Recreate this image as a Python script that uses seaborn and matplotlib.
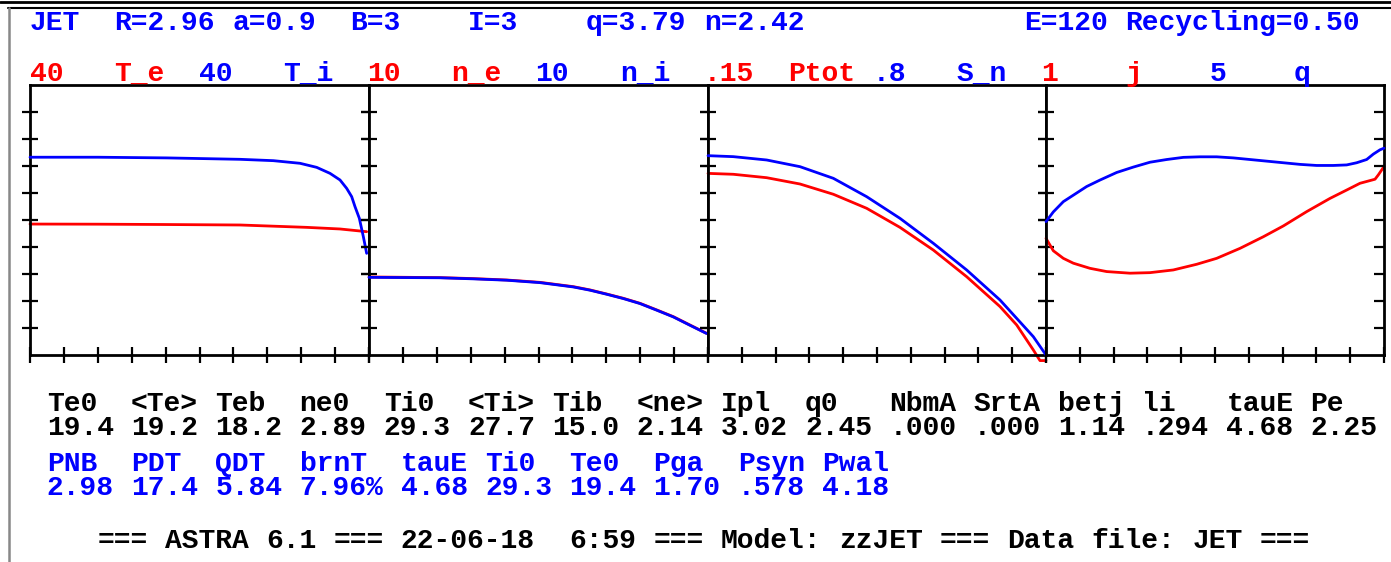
import re
import numpy as np
import matplotlib
matplotlib.use("Agg")
import matplotlib.pyplot as plt
import seaborn as sns
from matplotlib.lines import Line2D

# ---------------- data ----------------
header_line = "JET  R=2.96 a=0.9  B=3    I=3    q=3.79 n=2.42             E=120 Recycling=0.50"

red_scales = ["40", "10", ".15", "1"]
red_names = ["T_e", "n_e", "Ptot", "j"]
blue_scales = ["40", "10", ".8", "5"]
blue_names = ["T_i", "n_i", "S_n", "q"]
red_max = [40, 10, 0.15, 1]
blue_max = [40, 10, 0.8, 5]

# panel 1: Te (red), Ti (blue)
rho_Te = [0.0, 0.2, 0.4, 0.6195, 0.8161, 0.9145, 0.9931]
Te = [19.4, 19.38, 19.33, 19.26, 18.91, 18.67, 18.27]
rho_Ti = [0.0, 0.2, 0.403, 0.6195, 0.7178, 0.7965, 0.8456, 0.885, 0.9145, 0.9341,
          0.9489, 0.9587, 0.9715, 0.9833, 0.9931]
Ti = [29.3, 29.3, 29.2, 28.99, 28.79, 28.40, 27.80, 26.91, 25.93, 24.69,
      23.46, 21.98, 20.25, 17.53, 15.06]

# panel 2: ne (red), ni (blue)
rho_ne = [0.0, 0.2094, 0.3077, 0.4061, 0.5044, 0.6028, 0.6519, 0.7011, 0.7502,
          0.7994, 0.8486, 0.8977, 0.9469, 0.9961]
ne = [2.89, 2.866, 2.83, 2.778, 2.691, 2.531, 2.41, 2.259, 2.10,
      1.914, 1.67, 1.42, 1.11, 0.802]
rho_ni = [0.0, 0.2094, 0.3077, 0.4061, 0.5044, 0.6028, 0.6519, 0.7011, 0.7502,
          0.7994, 0.8486, 0.8977, 0.9469, 0.9961]
ni = [2.876, 2.86, 2.82, 2.77, 2.68, 2.52, 2.40, 2.25, 2.09,
      1.905, 1.66, 1.41, 1.10, 0.795]

# panel 3: Ptot (red), S_n (blue)
rho_P = [0.0, 0.0749, 0.1736, 0.2722, 0.3708, 0.4694, 0.568, 0.6667, 0.7653,
         0.8639, 0.9132, 0.9625, 0.9822, 1.0]
Ptot = [0.1009, 0.1004, 0.0985, 0.0950, 0.0893, 0.0815, 0.0709, 0.0583, 0.0435,
        0.0269, 0.0167, 0.0028, -0.0031, -0.0031]
rho_Sn = [0.0, 0.0749, 0.1736, 0.2722, 0.3708, 0.4694, 0.568, 0.6667, 0.7653,
          0.8639, 0.9625, 1.0]
Sn = [0.5906, 0.5877, 0.5778, 0.558, 0.5235, 0.4691, 0.4049, 0.3309, 0.2519,
      0.163, 0.0543, 0.0]

# panel 4: j (red), q (blue)
rho_j = [0.0, 0.0217, 0.0513, 0.0809, 0.1302, 0.1795, 0.2485, 0.3077, 0.3767,
         0.4458, 0.5049, 0.574, 0.643, 0.7022, 0.7712, 0.8402, 0.8896, 0.929,
         0.9734, 0.9832, 1.0]
j = [0.432, 0.386, 0.358, 0.340, 0.321, 0.309, 0.303, 0.305, 0.315,
     0.336, 0.358, 0.395, 0.438, 0.478, 0.531, 0.580, 0.611, 0.636,
     0.651, 0.667, 0.698]
rho_q = [0.0, 0.0217, 0.0513, 0.0809, 0.1203, 0.1598, 0.2091, 0.2584, 0.3077,
         0.357, 0.4063, 0.4556, 0.5049, 0.5542, 0.6036, 0.6529, 0.7022, 0.7515,
         0.8008, 0.8501, 0.8896, 0.9191, 0.9487, 0.9684, 0.9882, 1.0]
q = [2.47, 2.65, 2.84, 2.96, 3.12, 3.24, 3.38, 3.48, 3.57,
     3.62, 3.66, 3.67, 3.67, 3.65, 3.62, 3.59, 3.56, 3.53,
     3.51, 3.51, 3.52, 3.56, 3.62, 3.72, 3.80, 3.83]

labels_black = ["Te0", "<Te>", "Teb", "ne0", "Ti0", "<Ti>", "Tib", "<ne>",
                "Ipl", "q0", "NbmA", "SrtA", "betj", "li", "tauE", "Pe"]
values_black = ["19.4", "19.2", "18.2", "2.89", "29.3", "27.7", "15.0", "2.14",
                "3.02", "2.45", ".000", ".000", "1.14", ".294", "4.68", "2.25"]
labels_blue = ["PNB", "PDT", "QDT", "brnT", "tauE", "Ti0", "Te0", "Pga", "Psyn", "Pwal"]
values_blue = ["2.98", "17.4", "5.84", "7.96%", "4.68", "29.3", "19.4", "1.70", ".578", "4.18"]

footer = "=== ASTRA 6.1 === 22-06-18  6:59 === Model: zzJET === Data file: JET ==="

# ---------------- style ----------------
sns.set_style("white")
plt.rcParams["font.family"] = ["Liberation Mono", "DejaVu Sans Mono"]
plt.rcParams["font.weight"] = "bold"

W, H = 1391, 562
fig = plt.figure(figsize=(W / 100, H / 100), dpi=100)
fig.patch.set_facecolor("white")

RED = "#ff0000"
BLUE = "#0000ff"
FS = 20.2
CW = 16.85  # character cell width (px)
X0 = 30     # left margin (px)


def fx(px):
    return px / W


def fy(py):
    return 1 - py / H


def put(col, ybase, s, color):
    # place each word of a monospace line on its own character cell
    for m in re.finditer(r"\S+", s):
        fig.text(fx(X0 + (col + m.start()) * CW), fy(ybase), m.group(), color=color,
                 fontsize=FS, fontweight="bold", ha="left", va="baseline")


# frame lines
fig.add_artist(Line2D([0, 1], [fy(2), fy(2)], transform=fig.transFigure, color="black", lw=2))
fig.add_artist(Line2D([fx(8), 1], [fy(8), fy(8)], transform=fig.transFigure, color="black", lw=1.5))
fig.add_artist(Line2D([fx(9), fx(9)], [fy(8), 0], transform=fig.transFigure, color="#888888", lw=1.8))

# header
put(0, 30, header_line, BLUE)
for k in range(4):
    put(20 * k + 0, 81, red_scales[k], RED)
    put(20 * k + 5, 81, red_names[k], RED)
    put(20 * k + 10, 81, blue_scales[k], BLUE)
    put(20 * k + 15, 81, blue_names[k], BLUE)

# panels
edges = [30, 369, 708, 1046, 1384]
top, bot = 85, 355
series = [
    (rho_Te, Te, rho_Ti, Ti),
    (rho_ne, ne, rho_ni, ni),
    (rho_P, Ptot, rho_Sn, Sn),
    (rho_j, j, rho_q, q),
]
for k in range(4):
    ax = fig.add_axes([fx(edges[k]), fy(bot), (edges[k + 1] - edges[k]) / W, (bot - top) / H])
    ax.set_facecolor("white")
    ax2 = ax.twinx()
    xr, yr, xb, yb = series[k]
    sns.lineplot(x=xr, y=yr, ax=ax, color=RED, linewidth=2, estimator=None, sort=False)
    sns.lineplot(x=xb, y=yb, ax=ax2, color=BLUE, linewidth=2, estimator=None, sort=False)
    ax.lines[-1].set_clip_on(False)
    ax2.lines[-1].set_clip_on(False)
    ax.set_xlim(0, 1)
    ax.set_ylim(0, red_max[k])
    ax2.set_ylim(0, blue_max[k])
    ax.set_xticks(np.linspace(0, 1, 11))
    ax.set_yticks(np.linspace(0, red_max[k], 11)[1:-1])
    ax2.set_yticks(np.linspace(0, blue_max[k], 11)[1:-1])
    ax.set_xlabel("")
    ax.set_ylabel("")
    ax2.set_ylabel("")
    for sp in ax.spines.values():
        sp.set_visible(True)
        sp.set_color("black")
        sp.set_linewidth(2)
    for sp in ax2.spines.values():
        sp.set_visible(False)
    ax.tick_params(axis="x", which="major", direction="inout", length=12, width=1.6,
                   bottom=True, top=False, labelbottom=False, color="black")
    ax.tick_params(axis="y", which="major", direction="inout", length=12, width=1.6,
                   left=True, right=(k < 3), labelleft=False, labelright=False, color="black")
    if k == 3:
        ax2.tick_params(axis="y", which="major", direction="in", length=7, width=1.6,
                        right=True, left=False, labelright=False, color="black")
    else:
        ax2.tick_params(axis="y", which="both", right=False, left=False, labelright=False)
    ax.grid(False)
    ax2.grid(False)

# bottom numbers
row1_lab = " ".join(l.ljust(len(v)) for l, v in zip(labels_black, values_black))
row1_val = " ".join(values_black)
row2_lab = " ".join(l.ljust(len(v)) for l, v in zip(labels_blue, values_blue))
row2_val = " ".join(values_blue)
put(1, 411, row1_lab, "black")
put(1, 435, row1_val, "black")
put(1, 471, row2_lab, BLUE)
put(1, 495, row2_val, BLUE)
put(4, 548, footer, "black")

fig.savefig("out.png", dpi=100, facecolor="white")
